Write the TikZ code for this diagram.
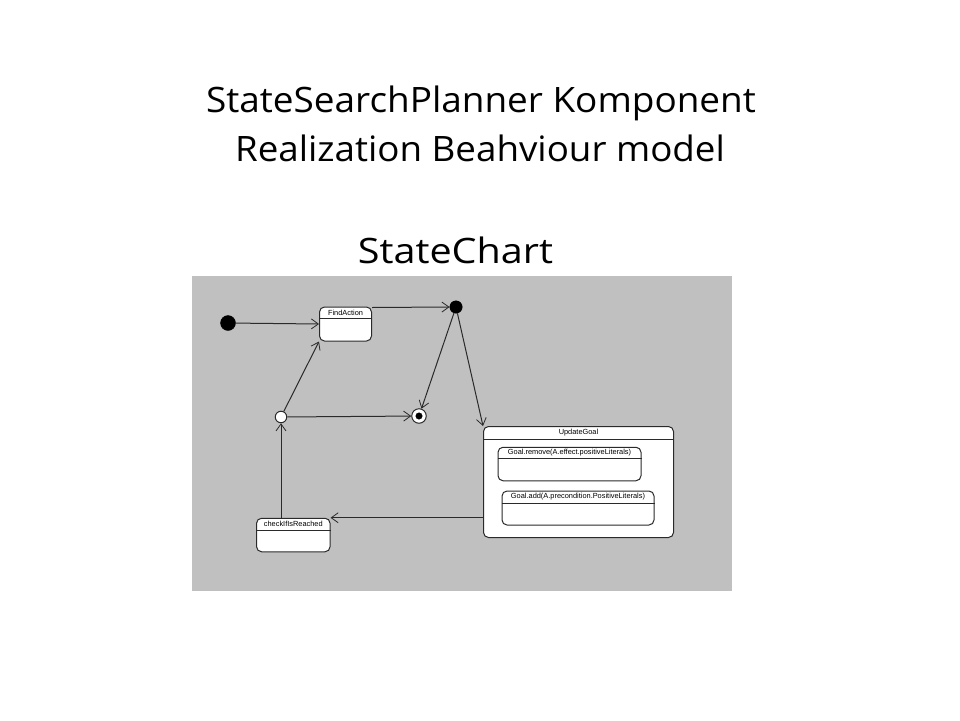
\documentclass[tikz,border=0pt]{standalone}
\usepackage{fontspec}
\setmainfont{Open Sans}
\newfontfamily\smallfont{Liberation Sans}
\usetikzlibrary{arrows.meta,calc}
\definecolor{panel}{HTML}{C0C0C0}
\definecolor{ink}{HTML}{2A2A2A}
\tikzset{
  conn/.style={draw=ink, line width=1pt, -{Straight Barb[length=7pt,width=10pt,line width=0.8pt]}},
  statebox/.style={draw=ink, line width=1pt, fill=white, rounded corners=5pt, inner sep=0pt},
  lbl/.style={font=\smallfont\fontsize{7.4}{8}\selectfont, inner sep=0pt, text=black},
  title/.style={font=\fontsize{35}{40}\selectfont, inner sep=0pt, text=black},
  solid dot/.style={circle, fill=black, draw=black, inner sep=0pt},
  hollow dot/.style={circle, fill=white, draw=ink, line width=1pt, inner sep=0pt},
}
\begin{document}
\begin{tikzpicture}[x=1pt,y=-1pt]
\useasboundingbox (0,0) rectangle (960,720);
\fill[white] (0,0) rectangle (960,720);
% titles
\node[title, xscale=1.055] (t1) at (481,103) {StateSearchPlanner Komponent};
\node[title, xscale=1.05] (t2) at (480,148) {Realization Beahviour model};
\node[title, xscale=1.13] (t3) at (455.5,250) {StateChart};
% panel
\fill[panel] (192,276) rectangle (732,591);
% states
\node[solid dot, minimum size=15pt] (init) at (228,323) {};
\node[solid dot, minimum size=12.5pt] (fork) at (456,307) {};
\node[hollow dot, minimum size=11.5pt] (choice) at (281,417) {};
\node[hollow dot, minimum size=14.5pt] (final) at (419,416) {};
\node[solid dot, minimum size=6.5pt] (finalin) at (final.center) {};

\node[statebox, minimum width=52pt, minimum height=34pt] (fa) at (345.5,324) {};
\draw[draw=ink, line width=1pt] ([yshift=-12pt]fa.north west) -- ([yshift=-12pt]fa.north east);
\node[lbl] (falbl) at ([yshift=-6.2pt]fa.north) {FindAction};

\node[statebox, minimum width=190pt, minimum height=111pt] (ug) at (578.5,482) {};
\draw[draw=ink, line width=1pt] ([yshift=-13pt]ug.north west) -- ([yshift=-13pt]ug.north east);
\node[lbl] (uglbl) at ([yshift=-6.5pt]ug.north) {UpdateGoal};

\node[statebox, minimum width=143pt, minimum height=33.5pt] (rm) at (569.5,464) {};
\draw[draw=ink, line width=1pt] ([yshift=-12pt]rm.north west) -- ([yshift=-12pt]rm.north east);
\node[lbl] (rmlbl) at ([yshift=-6pt]rm.north) {Goal.remove(A.effect.positiveLiterals)};

\node[statebox, minimum width=152pt, minimum height=34pt] (ad) at (578,508) {};
\draw[draw=ink, line width=1pt] ([yshift=-13pt]ad.north west) -- ([yshift=-13pt]ad.north east);
\node[lbl] (adlbl) at ([yshift=-6.5pt]ad.north) {Goal.add(A.precondition.PositiveLiterals)};

\node[statebox, minimum width=73.5pt, minimum height=33.5pt] (chk) at (293.3,535) {};
\draw[draw=ink, line width=1pt] ([yshift=-12.7pt]chk.north west) -- ([yshift=-12.7pt]chk.north east);
\node[lbl] (chklbl) at ([yshift=-6.5pt]chk.north) {checkIfIsReached};

% connectors
\draw[conn] (init) -- (fa.west);
\draw[conn] ([yshift=-1pt]fa.north east) -- (fork.west);
\draw[conn] (fork) -- (final);
\draw[conn] (fork) -- (ug.north west);
\draw[conn] (choice) -- (final);
\draw[conn] (choice) -- (fa.south west);
\draw[conn] (ug.west |- chk.north east) -- (chk.north east);
\draw[conn] (choice |- chk.north) -- (choice);
\end{tikzpicture}
\end{document}
